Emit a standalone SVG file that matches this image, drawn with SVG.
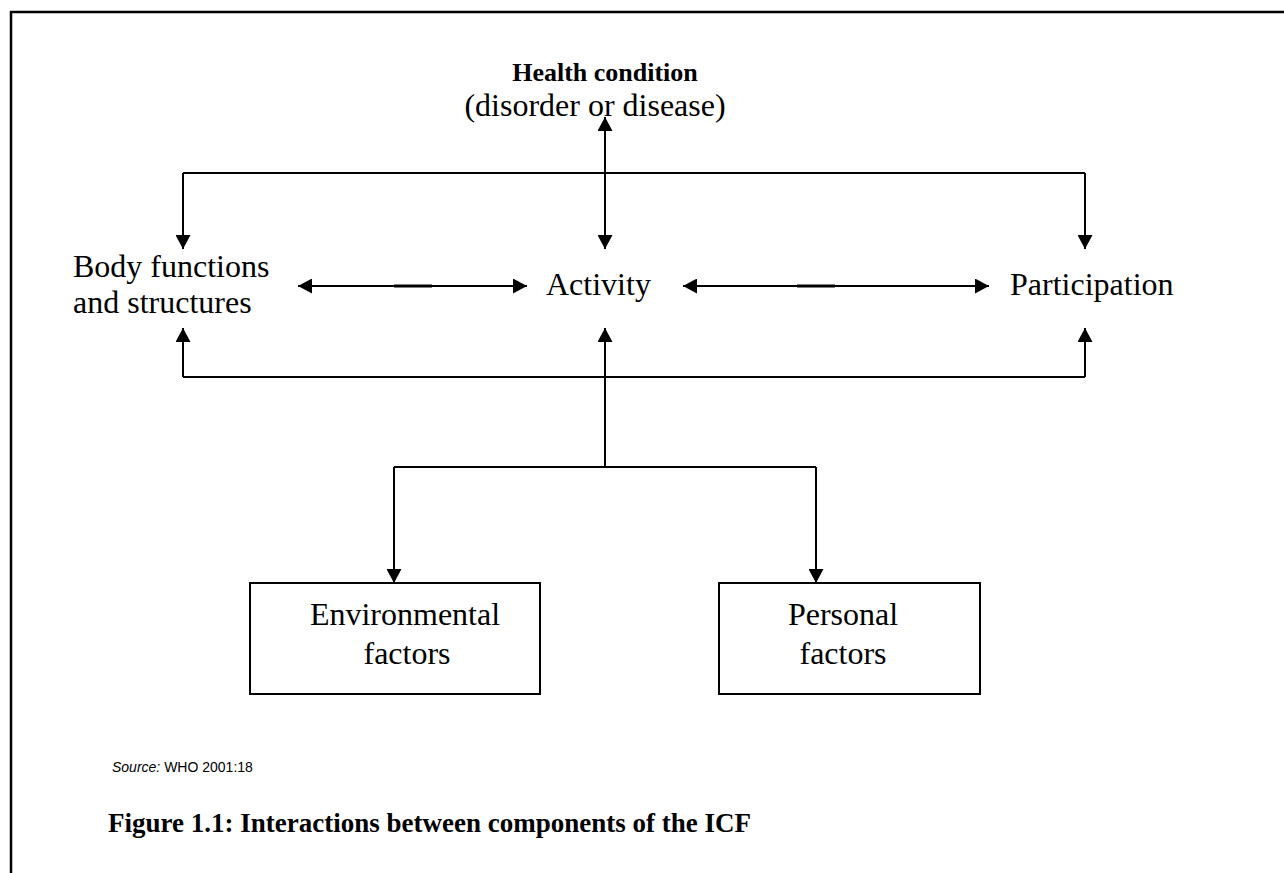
<svg xmlns="http://www.w3.org/2000/svg" width="1284" height="873" viewBox="0 0 1284 873">
<style>
.t{font-family:"Liberation Serif","Times New Roman",serif;font-size:32px;fill:#000}
.b{font-weight:bold}
.c{text-anchor:middle}
.hc{font-size:26px}
.cap{font-size:27px}
.ln{stroke:#000;stroke-width:2;fill:none}
.box{stroke:#000;stroke-width:2;fill:#fff}
.src{font-family:"Liberation Sans",Arial,sans-serif;font-size:14px;fill:#000}
.it{font-style:italic}
</style>
<defs>
<marker id="ah" markerUnits="userSpaceOnUse" markerWidth="14" markerHeight="15" viewBox="0 0 14 15" refX="14" refY="7.5" orient="auto-start-reverse">
<path d="M0,0 L14,7.5 L0,15 z" fill="#000"/>
</marker>
</defs>
<rect width="1284" height="873" fill="#fff"/>
<g id="frame">
<path d="M1284,12 H11 V873" stroke="#000" stroke-width="2.5" fill="none"/>
</g>
<g id="connectors">
<path class="ln" d="M605,117 V249" marker-start="url(#ah)" marker-end="url(#ah)"/>
<path class="ln" d="M183,173 H1085"/>
<path class="ln" d="M183,173 V249" marker-end="url(#ah)"/>
<path class="ln" d="M1085,173 V249" marker-end="url(#ah)"/>
<path class="ln" d="M298,286 H527" marker-start="url(#ah)" marker-end="url(#ah)"/>
<path d="M394,286 H432" stroke="#000" stroke-width="3"/>
<path class="ln" d="M683,286 H989" marker-start="url(#ah)" marker-end="url(#ah)"/>
<path d="M797,286 H835" stroke="#000" stroke-width="3"/>
<path class="ln" d="M183,377 H1085"/>
<path class="ln" d="M183,377 V328" marker-end="url(#ah)"/>
<path class="ln" d="M1085,377 V328" marker-end="url(#ah)"/>
<path class="ln" d="M605,467 V328" marker-end="url(#ah)"/>
<path class="ln" d="M394,467 H816"/>
<path class="ln" d="M394,467 V583" marker-end="url(#ah)"/>
<path class="ln" d="M816,467 V583" marker-end="url(#ah)"/>
</g>
<g id="health">
<text class="t b c hc" x="605" y="81">Health condition</text>
<text class="t c" x="595" y="116">(disorder or disease)</text>
</g>
<g id="body">
<text class="t" x="73" y="277">Body functions</text>
<text class="t" x="73" y="313">and structures</text>
</g>
<g id="activity">
<text class="t" x="546" y="295">Activity</text>
</g>
<g id="participation">
<text class="t" x="1010" y="295">Participation</text>
</g>
<g id="environmental">
<rect class="box" x="250" y="583" width="290" height="111"/>
<text class="t c" x="405" y="625">Environmental</text>
<text class="t c" x="407" y="664">factors</text>
</g>
<g id="personal">
<rect class="box" x="719" y="583" width="261" height="111"/>
<text class="t c" x="843" y="625">Personal</text>
<text class="t c" x="843" y="664">factors</text>
</g>
<g id="source">
<text class="src" x="112" y="772"><tspan class="it">Source:</tspan> WHO 2001:18</text>
</g>
<g id="caption">
<text class="t b cap" x="108" y="832">Figure 1.1: Interactions between components of the ICF</text>
</g>
</svg>
